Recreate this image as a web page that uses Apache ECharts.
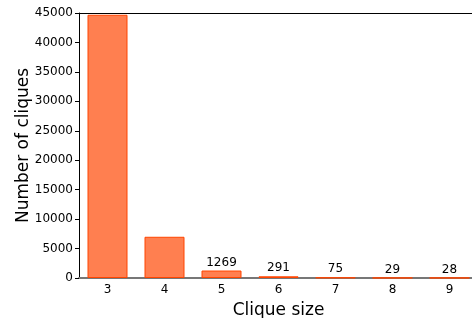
<!DOCTYPE html>
<html>
<head>
<meta charset="utf-8">
<script src="https://cdn.jsdelivr.net/npm/echarts@6/dist/echarts.min.js"></script>
<style>
  html, body { margin: 0; padding: 0; background: #fff; }
  #main { width: 472px; height: 318px; }
</style>
</head>
<body>
<div id="main"></div>
<script>
// 团大小分布
var categories = ['3', '4', '5', '6', '7', '8', '9'];
var counts = [44700, 7000, 1269, 291, 75, 29, 28];
var shownLabels = [false, false, true, true, true, true, true];
var yTicks = [0, 5000, 10000, 15000, 20000, 25000, 30000, 35000, 40000, 45000];

var font = 'DejaVu Sans';

var chart = echarts.init(document.getElementById('main'));

var option = {
	animation: false,
	backgroundColor: '#fff',
	grid: {
		left: 79,
		right: -6,
		top: 13,
		bottom: 40,
		containLabel: false,
		outerBoundsMode: 'none'
	},
	xAxis: [
		{
			type: 'category',
			data: categories,
			position: 'bottom',
			name: 'Clique size',
			nameLocation: 'middle',
			nameGap: 24,
			nameMoveOverlap: false,
			nameTextStyle: { fontFamily: font, fontSize: 17, color: '#000' },
			axisLine: { lineStyle: { color: '#777', width: 2 } },
			axisTick: { show: false },
			axisLabel: { fontFamily: font, fontSize: 12, color: '#000', margin: 6 }
		},
		{
			type: 'category',
			data: categories,
			position: 'top',
			axisLine: { lineStyle: { color: '#000', width: 1 } },
			axisTick: { alignWithLabel: true, inside: true, length: 5, lineStyle: { color: '#000' } },
			axisLabel: { show: false }
		}
	],
	yAxis: {
		type: 'value',
		min: 0,
		max: 45000,
		interval: 5000,
		name: 'Number of cliques',
		nameLocation: 'middle',
		nameGap: 47,
		nameMoveOverlap: false,
		nameTextStyle: { fontFamily: font, fontSize: 17, color: '#000' },
		axisLine: { show: true, lineStyle: { color: '#000', width: 1 } },
		axisTick: { show: true, length: 4, lineStyle: { color: '#000' } },
		splitLine: { show: false },
		axisLabel: {
			fontFamily: font, fontSize: 12, color: '#000', margin: 6,
			formatter: function (v) { return yTicks.indexOf(v) >= 0 ? String(v) : ''; }
		}
	},
	series: [{
		type: 'bar',
		xAxisIndex: 0,
		barWidth: 40,
		data: counts.map(function (v, i) {
			return {
				value: v,
				label: { show: shownLabels[i] }
			};
		}),
		itemStyle: {
			color: '#ff7f50',
			borderColor: '#ff4500',
			borderWidth: 1
		},
		label: {
			position: 'top',
			distance: 2,
			fontFamily: font,
			fontSize: 12,
			color: '#000'
		}
	}]
};

chart.setOption(option);
</script>
</body>
</html>
